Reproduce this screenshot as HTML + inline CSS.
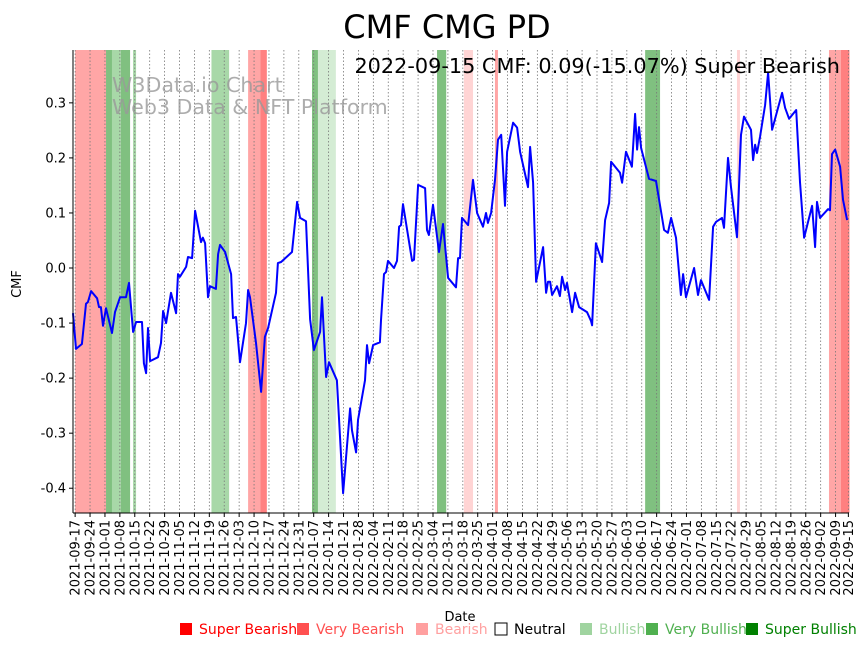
<!DOCTYPE html>
<html><head><meta charset="utf-8"><style>
body{margin:0;background:#fff;}
svg{display:block;font-family:"DejaVu Sans","Liberation Sans",sans-serif;}
</style></head><body>
<svg id="chart" width="867" height="646" viewBox="0 0 867 646" xmlns="http://www.w3.org/2000/svg">
<rect width="867" height="646" fill="#fff"/>
<g id="bands"></g>
<g id="grid"></g>
<text x="112" y="92" font-size="20.6" fill="#999" fill-opacity="0.8">W3Data.io Chart</text>
<text x="112" y="114" font-size="20.6" fill="#999" fill-opacity="0.8">Web3 Data &amp; NFT Platform</text>
<path id="line" fill="none" stroke="#0000ff" stroke-width="2" stroke-linejoin="round"/>
<g id="axes"></g>
<text x="447" y="38" font-size="32" text-anchor="middle">CMF CMG PD</text>
<text x="840" y="73" font-size="20.8" text-anchor="end">2022-09-15 CMF: 0.09(-15.07%) Super Bearish</text>
<text transform="translate(21,284) rotate(-90)" font-size="13" text-anchor="middle">CMF</text>
<text x="460" y="621" font-size="13" text-anchor="middle">Date</text>
<g id="legend" font-size="14"></g>
</svg>
<script>
const days=[0,1.4,4.2,6.1,7.0,8.5,11.3,12.2,13.1,14.1,15.5,18.3,19.7,22.1,24.9,26.3,28.2,29.6,32.4,33.3,34.3,35.2,36.2,39.9,41.3,42.3,43.7,46.0,48.4,49.3,50.2,53.1,54.0,55.9,57.3,60.1,61.0,62.0,63.4,64.3,67.1,68.1,69.0,71.4,74.2,75.1,76.5,77.0,78.4,81.2,82.2,83.1,85.9,88.3,90.1,91.6,95.3,96.2,97.7,102.8,105.2,106.6,109.4,111.3,113.1,116.0,116.9,118.8,120.2,123.9,126.8,130.1,131.0,132.9,133.8,137.1,138.0,139.0,140.9,144.1,144.6,146.0,147.0,147.9,150.7,152.1,153.1,154.0,154.9,159.2,160.1,162.0,165.3,166.2,167.1,169.0,171.8,173.7,176.1,179.8,180.8,181.7,182.6,185.5,187.8,189.7,192.5,193.9,194.8,196.3,198.1,199.5,201.0,202.8,203.8,206.6,208.5,209.9,213.6,214.6,216.0,217.4,220.7,222.1,223.0,224.0,224.9,227.2,228.6,229.6,231.0,231.9,234.3,235.7,237.6,241.3,243.2,243.7,245.5,248.4,249.8,251.7,252.6,256.8,257.8,259.6,262.4,263.9,264.8,265.7,266.7,270.4,273.7,277.5,279.3,280.8,283.1,285.4,286.4,287.8,291.6,293.4,294.8,298.6,300.5,301.9,304.7,305.6,307.5,308.9,311.7,313.6,315.0,318.3,319.3,320.2,321.1,322.5,324.9,326.3,328.2,332.9,334.3,336.2,339.5,341.3,343.2,347.0,348.4,349.3,350.7,354.5,355.4,356.3,357.8,360.1,361.5,363.4];
const cmf=[-0.082,-0.147,-0.138,-0.065,-0.062,-0.042,-0.055,-0.071,-0.071,-0.105,-0.073,-0.118,-0.080,-0.053,-0.053,-0.027,-0.116,-0.098,-0.098,-0.173,-0.191,-0.109,-0.169,-0.162,-0.136,-0.078,-0.100,-0.045,-0.082,-0.011,-0.016,0.002,0.020,0.018,0.104,0.047,0.055,0.045,-0.053,-0.033,-0.038,0.025,0.042,0.029,-0.011,-0.091,-0.089,-0.109,-0.171,-0.100,-0.040,-0.053,-0.136,-0.225,-0.125,-0.109,-0.045,0.009,0.011,0.029,0.120,0.091,0.085,-0.093,-0.149,-0.116,-0.053,-0.198,-0.171,-0.204,-0.409,-0.255,-0.295,-0.335,-0.276,-0.204,-0.140,-0.173,-0.140,-0.135,-0.095,-0.011,-0.007,0.013,0.000,0.013,0.075,0.078,0.116,0.013,0.015,0.151,0.145,0.069,0.060,0.115,0.029,0.080,-0.018,-0.035,0.018,0.018,0.091,0.078,0.160,0.100,0.075,0.100,0.082,0.100,0.160,0.233,0.242,0.113,0.211,0.264,0.255,0.211,0.147,0.220,0.155,-0.025,0.038,-0.045,-0.025,-0.025,-0.049,-0.033,-0.051,-0.016,-0.040,-0.027,-0.080,-0.045,-0.071,-0.080,-0.096,-0.104,0.045,0.011,0.087,0.118,0.193,0.173,0.155,0.211,0.184,0.280,0.215,0.256,0.218,0.162,0.158,0.069,0.064,0.091,0.055,-0.049,-0.011,-0.053,0.000,-0.049,-0.022,-0.058,0.075,0.084,0.091,0.073,0.200,0.147,0.056,0.242,0.275,0.251,0.196,0.224,0.209,0.238,0.296,0.355,0.251,0.318,0.291,0.271,0.287,0.156,0.055,0.113,0.038,0.120,0.091,0.107,0.105,0.207,0.215,0.184,0.124,0.087];
const bandStart=[1,15.5,18.3,22.5,28.2,65,82.2,88,112.2,115,170.9,183.5,198.1,268.6,311.7,354.9,360.5];
const bandEnd=[15.5,18.3,22.5,26.8,29.6,73.3,88,91,115,123.4,175.2,187.8,199.5,275.6,313.1,360.5,364.5];
const bandType=["vbear","sbull","vbull","sbull","vbull","vbull","vbear","sbear","sbull","bull","sbull","bear","vbear","sbull","bear","vbear","sbear"];
const yTicks=[-0.4,-0.3,-0.2,-0.1,0.0,0.1,0.2,0.3];
const legendLabels=["Super Bearish","Very Bearish","Bearish","Neutral","Bullish","Very Bullish","Super Bullish"];
const legendColors=["#ff0000","#ff5050","#ffa0a0","none","#a0d4a0","#50b050","#008000"];
const legendX=[186,303,422,501,586,652,752];

const NS="http://www.w3.org/2000/svg";
const L=73,R=849,T=50,B=513,D0=0,D1=364.3,V0=-0.445,V1=0.396;
const xs=d=>L+(d-D0)/(D1-D0)*(R-L);
const ys=v=>B-(v-V0)/(V1-V0)*(B-T);
function mk(tag,attrs,parent){const e=document.createElementNS(NS,tag);for(const k in attrs)e.setAttribute(k,attrs[k]);parent.appendChild(e);return e;}
const bandFill={sbear:"#ff8080",vbear:"#ffa6a6",bear:"#ffd4d4",bull:"#d4ecd4",vbull:"#a8d8a8",sbull:"#80c080"};
const gB=document.getElementById('bands');
bandStart.forEach((s,i)=>{const r=mk('rect',{x:xs(s),y:T,width:xs(bandEnd[i])-xs(s),height:B-T,fill:bandFill[bandType[i]]},gB);

});
const gG=document.getElementById('grid'),gA=document.getElementById('axes');
const base=new Date(Date.UTC(2021,8,16));
const tickDays=[];
for(let d=1;d<=358;d+=7)tickDays.push(d);
tickDays.push(364);
tickDays.forEach(d=>{const x=xs(d);
const gl=mk('line',{x1:x,x2:x,y1:T,y2:B,stroke:"#777","stroke-width":0.8,"stroke-dasharray":"1.5,2"},gG);


mk('line',{x1:x,x2:x,y1:B,y2:B+4,stroke:"#000"},gA);
const dt=new Date(base.getTime()+d*86400000);const lab=dt.toISOString().slice(0,10);
const t=mk('text',{transform:`translate(${x+4.5},${B+7}) rotate(-90)`,"font-size":13,"text-anchor":"end"},gA);t.textContent=lab;

});
yTicks.forEach(v=>{const y=ys(v);mk('line',{x1:L-4,x2:L,y1:y,y2:y,stroke:"#000"},gA);
const t=mk('text',{x:L-7,y:y+4.5,"font-size":13,"text-anchor":"end"},gA);t.textContent=v.toFixed(1);

});
mk('line',{x1:L,x2:L,y1:T,y2:B,stroke:"#000"},gA);
mk('line',{x1:L,x2:R,y1:B,y2:B,stroke:"#000"},gA);
document.getElementById('line').setAttribute('d',days.map((d,i)=>(i?'L':'M')+xs(d).toFixed(1)+','+ys(cmf[i]).toFixed(1)).join(''));
const gL=document.getElementById('legend');
legendLabels.forEach((lab,i)=>{const x=legendX[i];
const g=mk('g',{},gL);


mk('rect',{x:x-6,y:623,width:12,height:12,fill:legendColors[i]==="none"?"#fff":legendColors[i],stroke:legendColors[i]==="none"?"#000":"none"},g);
const t=mk('text',{x:x+13,y:634,fill:legendColors[i]==="none"?"#000":legendColors[i]},g);t.textContent=lab;});
</script>
</body></html>
